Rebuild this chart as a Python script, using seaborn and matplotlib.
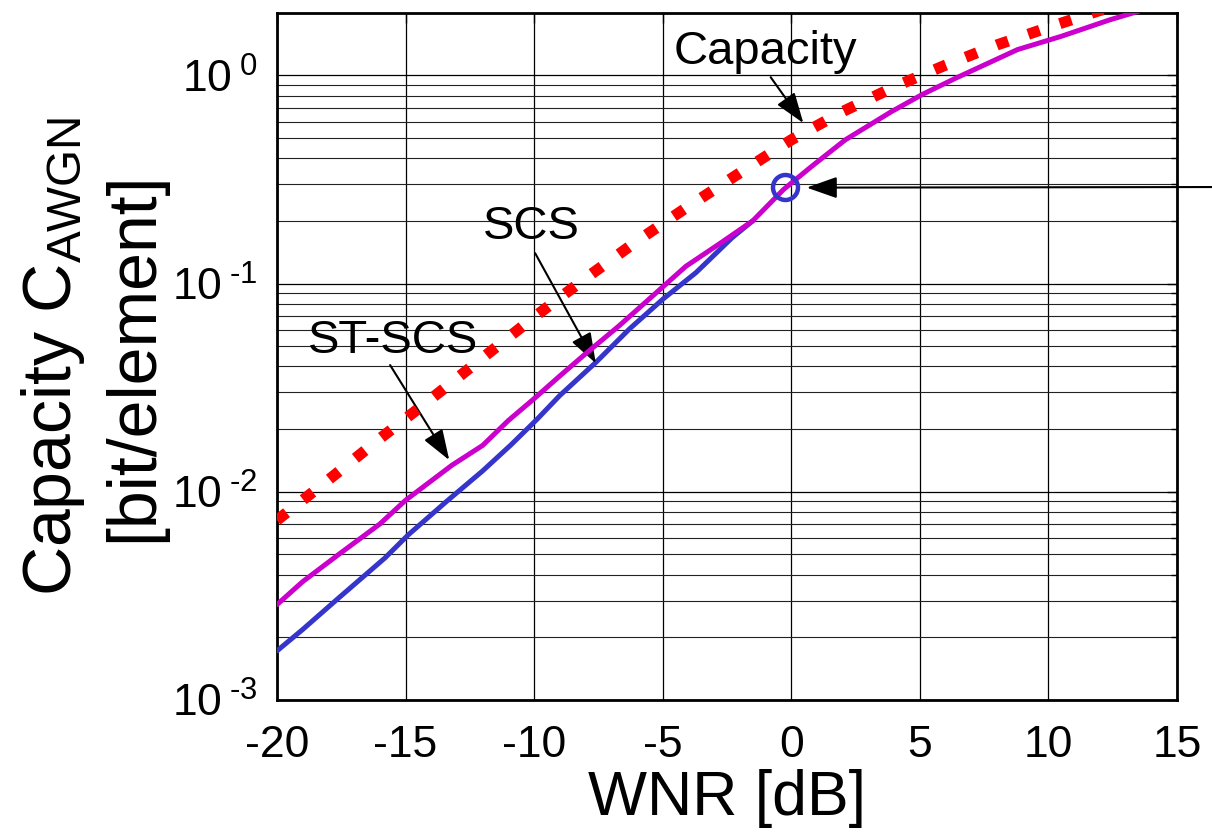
import numpy as np
import matplotlib
matplotlib.use('Agg')
import matplotlib.pyplot as plt
from matplotlib.ticker import LogLocator, NullFormatter
import seaborn as sns

# values
WNR_CAP = [-20, -18, -16, -14, -12, -10, -8, -6, -4, -2, 0, 2, 4, 6, 8, 10, 12, 13]
CAP = [0.0073, 0.0114, 0.018, 0.028, 0.044, 0.069, 0.106, 0.16, 0.235, 0.34,
       0.49, 0.67, 0.88, 1.12, 1.40, 1.70, 2.05, 2.2]

WNR_SCS = [-20, -19, -17.6, -15.8, -14.9, -13.4, -12, -10.9, -9.9, -9, -7.6,
           -6.3, -5, -3.7, -2.3, -1.5]
SCS = [0.00172, 0.00218, 0.00309, 0.00481, 0.0062, 0.0090, 0.0126, 0.0168,
       0.0222, 0.029, 0.0418, 0.0604, 0.084, 0.113, 0.166, 0.200]

WNR_STSCS = [-20, -19, -17.6, -16, -15, -13.2, -12, -11, -10, -9, -8, -6.7,
             -5.4, -4.1, -2.8, -1.5, -0.3, 0.8, 2.1, 3.9, 5.1, 6.4, 8.8, 10.5,
             12.4, 13.5]
STSCS = [0.00287, 0.0037, 0.0050, 0.0070, 0.0091, 0.0134, 0.0167, 0.0220,
         0.0280, 0.036, 0.046, 0.0626, 0.087, 0.121, 0.155, 0.200, 0.283,
         0.366, 0.49, 0.67, 0.81, 0.97, 1.33, 1.54, 1.85, 2.03]

MARK_WNR = [-0.25]
MARK_VAL = [0.29]

X_TICKS = [-20, -15, -10, -5, 0, 5, 10, 15]
X_TICK_LABELS = ['-20', '-15', '-10', '-5', '0', '5', '10', '15']
Y_TICKS = [1e-3, 1e-2, 1e-1, 1e0]
Y_TICK_LABELS = ['10$^{\\;\\text{-3}}$', '10$^{\\;\\text{-2}}$',
                 '10$^{\\;\\text{-1}}$', '10$^{\\;\\text{0}}$']

sns.set_theme(style='white')
plt.rcParams.update({
    'font.family': ['Liberation Sans', 'DejaVu Sans'],
    'mathtext.fontset': 'custom',
    'mathtext.rm': 'Liberation Sans',
    'mathtext.it': 'Liberation Sans:italic',
    'mathtext.default': 'regular',
    'axes.unicode_minus': False,
    'text.color': 'black', 'axes.labelcolor': 'black',
    'xtick.color': 'black', 'ytick.color': 'black',
})

BLUE = '#3535CC'
MAGENTA = '#CC00CC'
RED = '#FF0000'

fig = plt.figure(figsize=(12.12, 8.35), dpi=100)
ax = fig.add_axes([0.2285, 0.1617, 0.7426, 0.8231])

sns.lineplot(x=WNR_SCS, y=SCS, ax=ax, color=BLUE, lw=3.6, zorder=3)
sns.lineplot(x=WNR_STSCS, y=STSCS, ax=ax, color=MAGENTA, lw=3.6, zorder=4)
sns.lineplot(x=WNR_CAP, y=CAP, ax=ax, color=RED, lw=8,
             linestyle=(0, (1.1, 1.9)), dash_capstyle='butt', zorder=5)
ax.plot(MARK_WNR, MARK_VAL, 'o', mfc='none', mec=BLUE, ms=18, mew=3.2, zorder=6)

ax.set_yscale('log')
ax.set_xlim(-20, 15)
ax.set_ylim(1e-3, 2.0)
ax.set_xticks(X_TICKS)
ax.set_xticklabels(X_TICK_LABELS)
ax.set_yticks(Y_TICKS)
ax.set_yticklabels(Y_TICK_LABELS)
ax.yaxis.set_minor_locator(LogLocator(base=10, subs=np.arange(2, 10)))
ax.yaxis.set_minor_formatter(NullFormatter())

ax.grid(True, which='major', axis='both', color='black', lw=0.9)
ax.grid(True, which='minor', axis='y', color='#222222', lw=0.8)
ax.tick_params(axis='both', which='major', direction='in', length=7, width=1,
               labelsize=32, top=True, right=True)
ax.tick_params(axis='x', pad=18)
ax.tick_params(axis='y', pad=14)
ax.tick_params(axis='y', which='minor', direction='in', length=4, right=True)
for s in ax.spines.values():
    s.set_color('black')
    s.set_linewidth(2)

ax.set_xlabel('WNR [dB]', fontsize=45, labelpad=2)
ax.set_ylabel('Capacity C$_{\\mathrm{AWGN}}$\n[bit/element]', fontsize=49,
              linespacing=1.3, va='center')
ax.yaxis.set_label_coords(-0.205, 0.5)

arrow = dict(arrowstyle='-|>,head_length=0.85,head_width=0.3', color='black',
             lw=1.5, mutation_scale=22, shrinkA=0, shrinkB=0)

ax.text(-1.0, 1.29, 'Capacity', fontsize=34, ha='center', va='center')
ax.annotate('', xy=(0.47, 0.59), xytext=(-0.8, 0.98), arrowprops=arrow)

ax.text(-10.1, 0.187, 'SCS', fontsize=34, ha='center', va='center')
ax.annotate('', xy=(-7.6, 0.0414), xytext=(-9.96, 0.140), arrowprops=arrow)

ax.text(-15.5, 0.053, 'ST-SCS', fontsize=34, ha='center', va='center')
ax.annotate('', xy=(-13.3, 0.0142), xytext=(-15.6, 0.0406), arrowprops=arrow)

ax.annotate('', xy=(0.6, 0.289), xycoords='data', xytext=(1.0, 0.776),
            textcoords='figure fraction', arrowprops=arrow, annotation_clip=False)

fig.savefig('out.png', dpi=100)
